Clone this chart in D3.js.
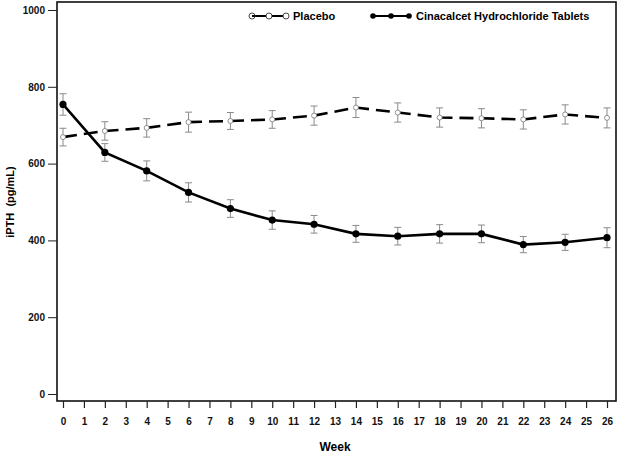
<!DOCTYPE html>
<html><head><meta charset="utf-8">
<script src="https://cdn.jsdelivr.net/npm/d3@7"></script>
<style>
body{margin:0;background:#fff;}
svg{display:block;font-family:"Liberation Sans",Arial,Helvetica,sans-serif;}
</style></head>
<body>
<svg id="c" width="619" height="453"></svg>
<script>
const weeks = [0,2,4,6,8,10,12,14,16,18,20,22,24,26];
const placebo = [669,685,693,708,711,715,725,746,733,720,718,715,728,719];
const placeboErr = [23,24,24,26,22,23,25,26,25,25,25,25,25,26];
const cinacalcet = [754,629,581,525,483,453,442,417,411,417,417,389,395,407];
const cinacalcetErr = [28,23,26,25,23,24,23,22,23,24,23,21,21,26];
const xTicks = d3.range(0,27);
const yTicks = [0,200,400,600,800,1000];

const svg = d3.select("#c");
const x = d3.scaleLinear().domain([0,26]).range([63,607]);
const y = d3.scaleLinear().domain([0,1000]).range([394,10]);

// frame
svg.append("rect").attr("x",57).attr("y",2).attr("width",559).attr("height",399)
  .attr("fill","none").attr("stroke","#111").attr("stroke-width",1.6);

// y axis
const ya = svg.append("g").attr("transform","translate(57,0)")
  .call(d3.axisLeft(y).tickValues(yTicks).tickSize(9).tickPadding(3).tickFormat(d3.format("d")));
ya.select(".domain").remove();
ya.selectAll("line").attr("stroke","#222").attr("stroke-width",1);
ya.selectAll("text").attr("font-size",10).attr("font-weight","bold").attr("fill","#111")
  .attr("font-family","'Liberation Sans',Arial,sans-serif");

// x axis
const xa = svg.append("g").attr("transform","translate(0,401)")
  .call(d3.axisBottom(x).tickValues(xTicks).tickSize(7).tickPadding(10).tickFormat(d3.format("d")));
xa.select(".domain").remove();
xa.selectAll("line").attr("stroke","#222").attr("stroke-width",1.2);
xa.selectAll("text").attr("font-size",10).attr("font-weight","bold").attr("fill","#111")
  .attr("font-family","'Liberation Sans',Arial,sans-serif");

// axis titles
svg.append("text").attr("x",335).attr("y",451).attr("text-anchor","middle")
  .attr("font-size",12).attr("font-weight","bold").attr("fill","#000").text("Week");
svg.append("text").attr("transform","translate(14,202) rotate(-90)").attr("text-anchor","middle")
  .attr("font-size",11).attr("font-weight","bold").attr("fill","#000")
  .style("white-space","pre").text("iPTH  (pg/mL)");

const series = [
  {vals:placebo, err:placeboErr, dash:"14,7", filled:false},
  {vals:cinacalcet, err:cinacalcetErr, dash:null, filled:true}
];

// error bars
series.forEach(s=>{
  const g = svg.append("g").attr("stroke","#8a8a8a").attr("stroke-width",1);
  weeks.forEach((w,i)=>{
    const cx = x(w), v = s.vals[i], e = s.err[i];
    g.append("line").attr("x1",cx).attr("x2",cx).attr("y1",y(v+e)).attr("y2",y(v-e));
    g.append("line").attr("x1",cx-3.5).attr("x2",cx+3.5).attr("y1",y(v+e)).attr("y2",y(v+e));
    g.append("line").attr("x1",cx-3.5).attr("x2",cx+3.5).attr("y1",y(v-e)).attr("y2",y(v-e));
  });
});

const line = d3.line().x((d,i)=>x(weeks[i])).y(d=>y(d));
series.forEach(s=>{
  svg.append("path").datum(s.vals).attr("d",line).attr("fill","none")
    .attr("stroke","#000").attr("stroke-width",2.6)
    .attr("stroke-dasharray",s.dash);
});

// markers
svg.append("g").selectAll("circle").data(placebo).join("circle")
  .attr("cx",(d,i)=>x(weeks[i])).attr("cy",d=>y(d)).attr("r",2.5)
  .attr("fill","#fff").attr("stroke","#777").attr("stroke-width",0.8);
svg.append("g").selectAll("circle").data(cinacalcet).join("circle")
  .attr("cx",(d,i)=>x(weeks[i])).attr("cy",d=>y(d)).attr("r",3.6)
  .attr("fill","#000");

// legend
const lg = svg.append("g");
lg.append("line").attr("x1",252).attr("x2",286).attr("y1",16).attr("y2",16)
  .attr("stroke","#000").attr("stroke-width",1.8);
[252,269,286].forEach(cx=>lg.append("circle").attr("cx",cx).attr("cy",16).attr("r",3)
  .attr("fill",cx===252?"none":"#fff").attr("stroke","#333").attr("stroke-width",0.9));
lg.append("text").attr("x",293).attr("y",20).attr("font-size",11).attr("font-weight","bold").attr("fill","#000").text("Placebo");
lg.append("line").attr("x1",373).attr("x2",409).attr("y1",16).attr("y2",16)
  .attr("stroke","#000").attr("stroke-width",2.2);
[373,391,409].forEach(cx=>lg.append("circle").attr("cx",cx).attr("cy",16).attr("r",2.8).attr("fill","#000"));
lg.append("text").attr("x",416).attr("y",20).attr("font-size",11).attr("font-weight","bold").attr("fill","#000").text("Cinacalcet Hydrochloride Tablets");
</script>
</body></html>
